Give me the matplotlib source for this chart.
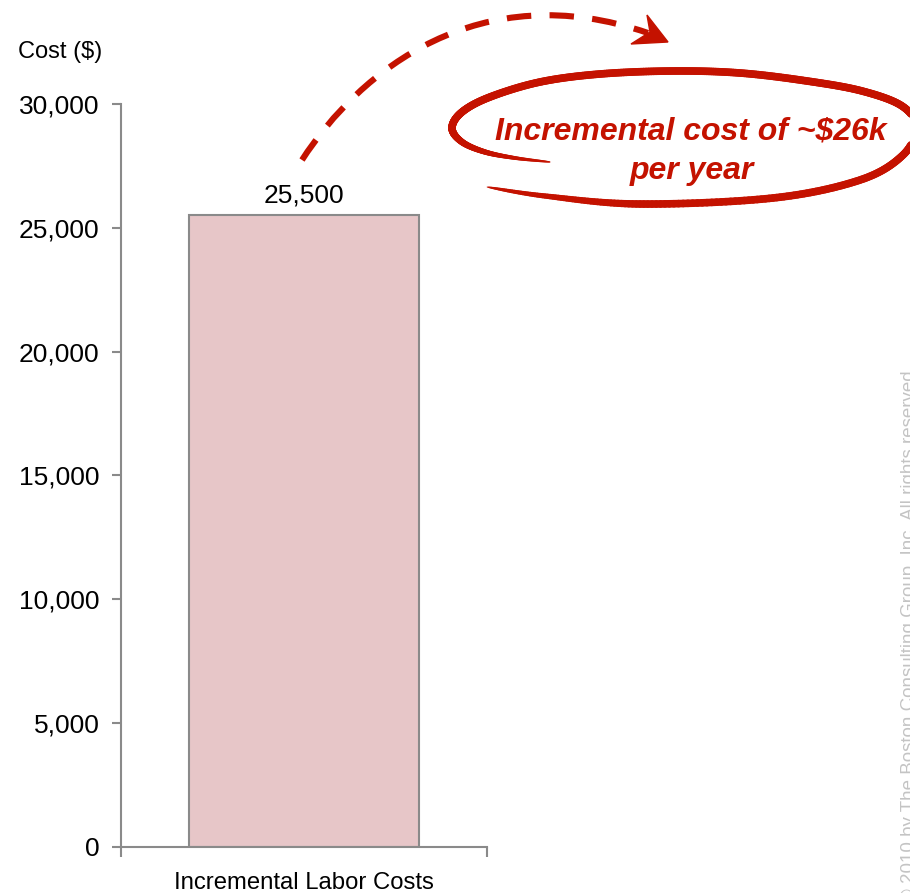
import numpy as np
import matplotlib
matplotlib.use("Agg")
import matplotlib.pyplot as plt
from matplotlib.collections import LineCollection
from matplotlib.path import Path
from matplotlib.patches import PathPatch, Polygon

plt.rcParams['font.family'] = ['Liberation Sans', 'DejaVu Sans']

# ---- data ----
categories = ["Incremental Labor Costs"]
values = [25500]
value_labels = ["25,500"]
y_ticks = [0, 5000, 10000, 15000, 20000, 25000, 30000]
y_tick_labels = ["0", "5,000", "10,000", "15,000", "20,000", "25,000", "30,000"]
y_axis_title = "Cost ($)"
callout_lines = ["Incremental cost of ~$26k", "per year"]
watermark = "\u00a9 2010 by The Boston Consulting Group, Inc. All rights reserved"

W, H = 910, 893
fig = plt.figure(figsize=(W / 100, H / 100), dpi=100)

ax = fig.add_axes([121 / W, 1 - 847 / H, (487 - 121) / W, (847 - 104) / H])
gray = '#8a8a8a'
red = '#C41200'

x = np.arange(len(categories))
ax.bar(x, values, width=0.626, color='#E7C6C8', edgecolor=gray, linewidth=1.5, zorder=2)
for xi, v, lab in zip(x, values, value_labels):
    ax.annotate(lab, (xi, v), xytext=(0, 6), textcoords='offset points',
                ha='center', va='bottom', fontsize=19, color='black')

ax.set_xlim(-0.5, 0.5)
ax.set_ylim(0, 30000)
ax.set_yticks(y_ticks)
ax.set_yticklabels(y_tick_labels, fontsize=19)
ax.set_xticks(x)
ax.set_xticklabels(categories, fontsize=17.2)
ax.set_xticks([-0.5, 0.5], minor=True)
ax.tick_params(axis='x', which='major', length=0, pad=18)
ax.tick_params(axis='x', which='minor', length=7, width=1.5, color=gray, direction='out')
ax.tick_params(axis='y', length=6.5, width=1.5, color=gray, direction='out', pad=9)
for s in ['top', 'right']:
    ax.spines[s].set_visible(False)
for s in ['left', 'bottom']:
    ax.spines[s].set_color(gray)
    ax.spines[s].set_linewidth(1.5)

fig.text(18 / W, 1 - 52 / H, y_axis_title, ha='left', va='center', fontsize=17)

# ---- overlay for callout decorations (pixel coordinates) ----
ov = fig.add_axes([0, 0, 1, 1], zorder=5)
ov.set_xlim(0, W)
ov.set_ylim(H, 0)
ov.axis('off')
ov.patch.set_visible(False)


def catmull_rom(p, n=30):
    p = np.asarray(p, float)
    p = np.vstack([p[0], p, p[-1]])
    out = []
    for i in range(1, len(p) - 2):
        p0, p1, p2, p3 = p[i - 1], p[i], p[i + 1], p[i + 2]
        tt = np.linspace(0, 1, n, endpoint=False)[:, None]
        out.append(0.5 * ((2 * p1) + (-p0 + p2) * tt + (2 * p0 - 5 * p1 + 4 * p2 - p3) * tt ** 2
                          + (-p0 + 3 * p1 - 3 * p2 + p3) * tt ** 3))
    out.append(p[-2][None, :])
    return np.vstack(out)


# hand-drawn looping stroke around the callout
loop_pts = [(487, 187), (545, 196), (640, 204), (773, 198), (860, 180), (903, 155),
            (916, 127), (902, 106), (862, 91), (807, 81), (740, 73), (673, 71),
            (600, 74), (540, 82), (490, 97), (462, 112), (452, 128), (462, 142),
            (485, 152), (515, 158), (550, 162)]
curve = catmull_rom(loop_pts)
s = np.linspace(0, 1, len(curve))
pts = curve.reshape(-1, 1, 2)
segs = np.concatenate([pts[:-1], pts[1:]], axis=1)
taper = np.clip(np.minimum(s / 0.10, (1 - s) / 0.20), 0, 1) ** 0.6
lw = 0.5 + 5.0 * taper[:-1]
ov.add_collection(LineCollection(segs, linewidths=lw, colors=red, capstyle='round'))

ov.text(691, 132, callout_lines[0], ha='center', va='center', fontsize=23,
        fontweight='bold', fontstyle='italic', color=red)
ov.text(692, 171, callout_lines[1], ha='center', va='center', fontsize=23,
        fontweight='bold', fontstyle='italic', color=red)

# dashed arc arrow
verts = [(302, 160), (360, 70), (480, -25), (648, 33)]
codes = [Path.MOVETO, Path.CURVE4, Path.CURVE4, Path.CURVE4]
ov.add_patch(PathPatch(Path(verts, codes), fill=False, edgecolor=red, lw=4.4,
                       linestyle=(0, (4.0, 3.0)), capstyle='butt'))
ov.add_patch(Polygon([(668, 42), (647, 15), (650, 32), (631, 44)], closed=True,
                     facecolor=red, edgecolor=red, lw=1))

# watermark (partly cut by the right edge, as in the original)
ov.text(910, 370, watermark, rotation=90, ha='center', va='top', fontsize=13.5,
        color='#c4c4c4')

fig.savefig('out.png', dpi=100)
